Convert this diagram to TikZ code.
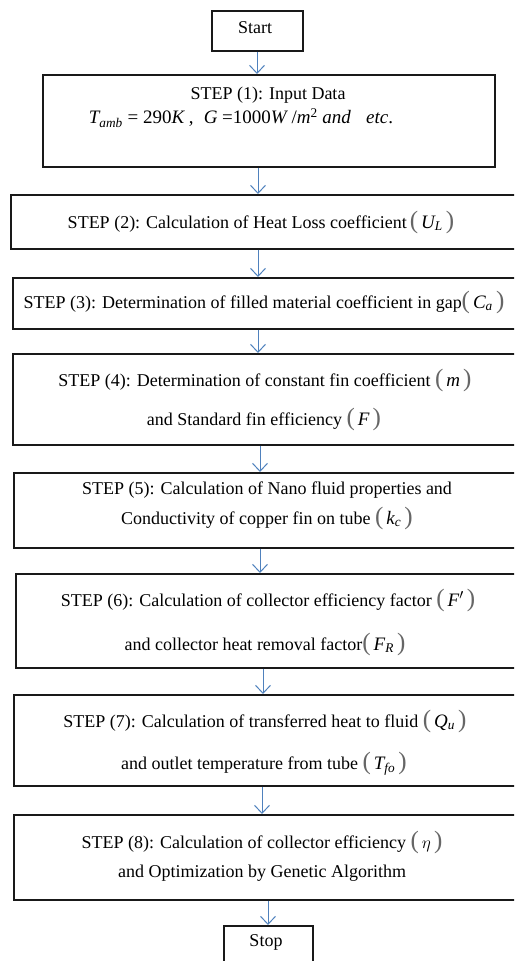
\documentclass[tikz,border=0pt]{standalone}
\usepackage{fontspec}
\setmainfont{Liberation Serif}
\usetikzlibrary{arrows.meta}
\definecolor{arrblue}{RGB}{79,129,189}
\newcommand{\mi}[1]{{\itshape #1}}
\newcommand{\bigpar}[1]{{\color{black!60}\fontsize{25}{25}\selectfont(}\,#1\,{\color{black!60}\fontsize{25}{25}\selectfont)}}
\newcommand{\mfont}{\fontsize{19}{19}\selectfont}
\begin{document}
\begin{tikzpicture}[x=1pt,y=-1pt,
  box/.style={draw=black!90, line width=1.6pt, anchor=north west, inner sep=0pt},
  txt/.style={font=\fontsize{18}{40}\selectfont, align=center, inner sep=0pt},
  arr/.style={draw=arrblue, line width=1pt, -{Straight Barb[length=8pt,width=15pt,line width=1pt]}}]
\useasboundingbox (0,0) rectangle (514,961);
\clip (0,0) rectangle (514,961);
% boxes
\node[box, minimum width=91pt, minimum height=40pt] (start) at (211,10) {};
\node[box, minimum width=452pt, minimum height=92pt] (s1) at (42,74) {};
\node[box, minimum width=520pt, minimum height=54pt] (s2) at (10,194) {};
\node[box, minimum width=520pt, minimum height=51pt] (s3) at (12,277) {};
\node[box, minimum width=520pt, minimum height=91pt] (s4) at (12,353) {};
\node[box, minimum width=520pt, minimum height=75pt] (s5) at (13,472) {};
\node[box, minimum width=520pt, minimum height=94pt] (s6) at (15,573) {};
\node[box, minimum width=520pt, minimum height=91pt] (s7) at (13,694) {};
\node[box, minimum width=520pt, minimum height=85pt] (s8) at (13,814) {};
\node[box, minimum width=89pt, minimum height=50pt] (stop) at (223,925) {};
% texts
\node[txt] (tstart) at (255,28) {Start};
\node[txt] (t1a) at (268,95) {STEP (1): Input Data};
\node[txt] (t1b) at (241,118) {\mfont\mi{T}\textsubscript{\mi{amb}} = 290\mi{K} ,\; \mi{G} =1000\mi{W} /\mi{m}\textsuperscript{2} \mi{and}\;\; \mi{etc}.};
\node[txt] (t2) at (261,222) {STEP (2): Calculation of Heat Loss coefficient\,\bigpar{\mfont\mi{U}\textsubscript{\mi{L}}}};
\node[txt] (t3) at (264,302) {STEP (3): Determination of filled material coefficient in gap\bigpar{\mfont\mi{C}\textsubscript{\mi{a}}}};
\node[txt] (t4a) at (265,380) {STEP (4): Determination of constant fin coefficient \bigpar{\mfont\mi{m}}};
\node[txt] (t4b) at (264,419) {and Standard fin efficiency \bigpar{\mfont\mi{F}}};
\node[txt] (t5a) at (267,490) {STEP (5): Calculation of Nano fluid properties and};
\node[txt] (t5b) at (267,518) {Conductivity of copper fin on tube \bigpar{\mfont\mi{k}\textsubscript{\mi{c}}}};
\node[txt] (t6a) at (268,600) {STEP (6): Calculation of collector efficiency factor \bigpar{\mfont\mi{F}$'$}};
\node[txt] (t6b) at (265,644) {and collector heat removal factor\bigpar{\mfont\mi{F}\textsubscript{\mi{R}}}};
\node[txt] (t7a) at (265,721) {STEP (7): Calculation of transferred heat to fluid \bigpar{\mfont\mi{Q}\textsubscript{\mi{u}}}};
\node[txt] (t7b) at (264,764) {and outlet temperature from tube \bigpar{\mfont\mi{T}\textsubscript{\mi{fo}}}};
\node[txt] (t8a) at (262,842) {STEP (8): Calculation of collector efficiency \bigpar{\mfont$\eta$}};
\node[txt] (t8b) at (262,873) {and Optimization by Genetic Algorithm};
\node[txt] (tstop) at (266,942) {Stop};
% arrows
\draw[arr] (start.south -| 257,0) -- (s1.north -| 257,0);
\draw[arr] (s1.south -| 258,0) -- (s2.north -| 258,0);
\draw[arr] (s2.south -| 258,0) -- (s3.north -| 258,0);
\draw[arr] (s3.south -| 258,0) -- (s4.north -| 258,0);
\draw[arr] (s4.south -| 260,0) -- (s5.north -| 260,0);
\draw[arr] (s5.south -| 260,0) -- (s6.north -| 260,0);
\draw[arr] (s6.south -| 263,0) -- (s7.north -| 263,0);
\draw[arr] (s7.south -| 262,0) -- (s8.north -| 262,0);
\draw[arr] (s8.south -| 268,0) -- (stop.north -| 268,0);
\end{tikzpicture}
\end{document}
